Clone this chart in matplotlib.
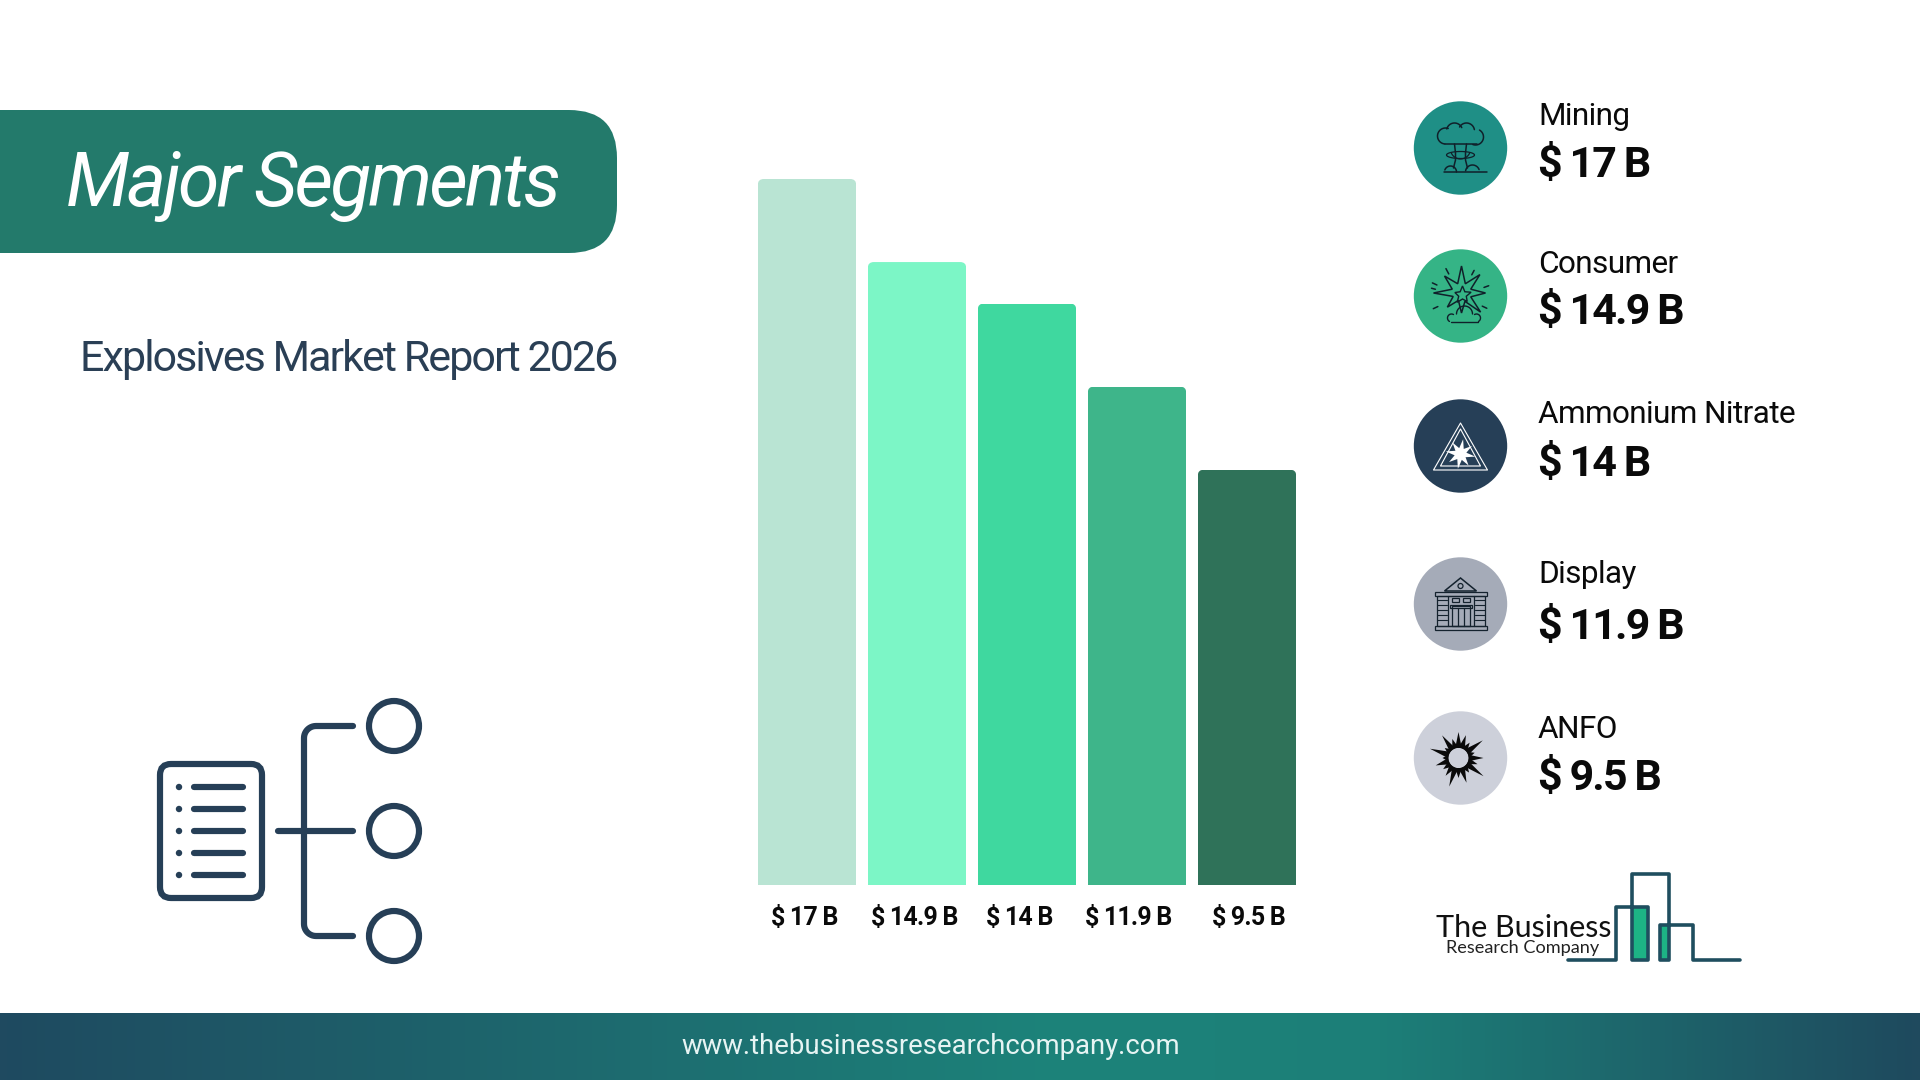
import numpy as np
import matplotlib
matplotlib.use("Agg")
import matplotlib.pyplot as plt
from matplotlib import font_manager as fm
from matplotlib.font_manager import FontProperties
from matplotlib.patches import FancyBboxPatch, Circle, Polygon, Rectangle
from matplotlib.transforms import ScaledTranslation, IdentityTransform
from matplotlib.colors import LinearSegmentedColormap

plt.rcParams['font.family'] = ['Roboto', 'DejaVu Sans']

# ---------- data ----------
categories = ["Mining", "Consumer", "Ammonium Nitrate", "Display", "ANFO"]
bar_heights = [17.0, 15.0, 14.0, 12.0, 10.0]
value_labels = ["$ 17 B", "$ 14.9 B", "$ 14 B", "$ 11.9 B", "$ 9.5 B"]
bar_colors = ["#B9E4D3", "#7CF6C6", "#3FD89F", "#3EB58A", "#2F7259"]
icon_colors = ["#1F8F86", "#35B486", "#263F57", "#A5ABB8", "#CDD0DA"]
title_text = "Major Segments"
subtitle_text = "Explosives Market Report 2026"
footer_text = "www.thebusinessresearchcompany.com"

W, H = 1920, 1080
NAVY = "#263F57"
fig = plt.figure(figsize=(W / 100, H / 100), dpi=100, facecolor="white")
px = lambda s: s * 0.72


def tracked(weight, style, track_em, size_px, tag):
    """Roboto with a tighter letter spacing, like the reference's negative tracking."""
    base = FontProperties(family="Roboto", weight=weight, style=style, size=px(size_px))
    try:
        from fontTools.ttLib import TTFont
        f = TTFont(fm.findfont(base))
        upem = f["head"].unitsPerEm
        hm = f["hmtx"].metrics
        for g, (adv, lsb) in list(hm.items()):
            if adv > 0:
                hm[g] = (adv - int(track_em * upem), lsb)
        if "HVAR" in f:
            del f["HVAR"]
        out = f"tracked_{tag}.ttf"
        f.save(out)
        return FontProperties(fname=out, size=px(size_px))
    except Exception:
        return base


fp_title = tracked("normal", "italic", 0.038, 75, "title")
fp_sub = tracked("normal", "normal", 0.046, 43, "sub")
fp_name = tracked("normal", "normal", 0.02, 31.5, "name")
fp_val = tracked("bold", "normal", 0.045, 43, "val")
fp_tick = tracked("bold", "normal", 0.032, 25, "tick")

# ---------- overlay in pixel coordinates ----------
ov = fig.add_axes([0, 0, 1, 1], zorder=1)
ov.set_xlim(0, W); ov.set_ylim(H, 0); ov.axis("off")

# footer gradient
cmap = LinearSegmentedColormap.from_list("f", [(0, "#1F4A60"), (0.55, "#1C837A"), (0.72, "#1C7F78"), (1, "#1F4A5E")])
ov.imshow(np.linspace(0, 1, 512)[None, :], extent=(0, W, 1080, 1013), cmap=cmap, aspect="auto", zorder=1)
ov.set_xlim(0, W); ov.set_ylim(H, 0)
ov.text(931, 1054, footer_text, color="#E6F4F3", fontsize=px(27.5), ha="center", va="baseline", zorder=3)

# title pill
ov.add_patch(FancyBboxPatch((-80, 110), 697, 143, boxstyle="round,pad=0,rounding_size=48",
                            fc="#237A6B", ec="none", zorder=1))
ov.text(66, 206, title_text, color="white", fontproperties=fp_title, ha="left", va="baseline", zorder=3)
ov.text(80, 371, subtitle_text, color="#2A3F55", fontproperties=fp_sub, ha="left", va="baseline", zorder=3)

# ---------- bar chart ----------
ax = fig.add_axes([752 / W, 1 - 885 / H, 550 / W, 706 / H], zorder=2)
ax.patch.set_alpha(0)
xpos = np.arange(len(categories))
bars = ax.bar(xpos, bar_heights, width=0.895, color=bar_colors, linewidth=0)
ax.set_xlim(-0.5, 4.5); ax.set_ylim(0, 17)
for s in ax.spines.values():
    s.set_visible(False)
ax.set_yticks([])
ax.set_xticks(xpos, value_labels, color="#0A0A0A")
ax.tick_params(axis="x", length=0, pad=15)
label_dx = [-3, -3, -8, -9, 2]
for lab, dx in zip(ax.get_xticklabels(), label_dx):
    lab.set_fontproperties(fp_tick)
    lab.set_transform(lab.get_transform() + ScaledTranslation(dx / 100, 0, fig.dpi_scale_trans))
fig.canvas.draw()
for b in bars:
    e = b.get_window_extent()
    clip = FancyBboxPatch((e.x0, e.y0 - 20), e.width, e.height + 20, boxstyle="round,pad=0,rounding_size=6",
                          transform=IdentityTransform(), fc="none", ec="none")
    b.set_clip_path(clip)

# ---------- right column ----------
cy_list = [148, 296, 446, 604, 758]
name_base = [125, 273, 423, 583, 738]
val_base = [177, 324, 476, 639, 790]
CX = 1460.5
for i in range(5):
    ov.add_patch(Circle((CX, cy_list[i]), 46.7, fc=icon_colors[i], ec="none", zorder=1))
    ov.text(1538, name_base[i], categories[i], color="#0A0A0A", fontproperties=fp_name, ha="left", va="baseline", zorder=3)
    ov.text(1538, val_base[i], value_labels[i], color="#0A0A0A", fontproperties=fp_val, ha="left", va="baseline", zorder=3)


def line(xs, ys, c="#10202A", lw=1.1):
    ov.plot(xs, ys, color=c, lw=lw, solid_capstyle="round", solid_joinstyle="round", zorder=3)


def arc(cx, cy, r, t1, t2, **k):
    t = np.radians(np.linspace(t1, t2, 24))
    line(cx + r * np.cos(t), cy - r * np.sin(t), **k)


def star(cx, cy, radii, rot=90.0):
    n = len(radii)
    t = np.radians(rot + np.arange(n) * 360.0 / n)
    return np.c_[cx + np.array(radii) * np.cos(t), cy - np.array(radii) * np.sin(t)]


# mushroom cloud
cx, cy = CX, 148
arc(cx - 15, cy - 12, 8, 70, 265)
arc(cx - 6, cy - 17, 8, 25, 165)
arc(cx + 6, cy - 17, 8, 10, 150)
arc(cx + 15, cy - 11, 8, -110, 60)
line([cx - 16, cx + 16], [cy - 4, cy - 4])
arc(cx, cy + 1, 10, 205, 335, lw=0.9)
line([cx - 6, cx - 5, cx - 5, cx - 7], [cy - 4, cy + 5, cy + 12, cy + 20])
line([cx + 6, cx + 5, cx + 5, cx + 7], [cy - 4, cy + 5, cy + 12, cy + 20])
t = np.radians(np.linspace(0, 360, 40))
line(cx + 14 * np.cos(t), cy + 7 + 3.5 * np.sin(t), lw=0.9)
arc(cx - 10, cy + 24, 6, 0, 160)
arc(cx + 12, cy + 24, 7, 20, 170)
line([cx - 17, cx + 26], [cy + 24, cy + 24])

# blast
cx, cy = CX, 296
p = star(cx + 1, cy - 3, [27, 10, 24, 10, 28, 9, 20, 8, 20, 9, 27, 10, 24, 10, 26, 10])
ov.add_patch(Polygon(p, closed=True, fc="none", ec="#10202A", lw=1.1, joinstyle="miter", zorder=3))
p = star(cx + 2, cy - 1, [9, 4, 8, 4, 9, 4, 8, 4, 9, 4])
ov.add_patch(Polygon(p, closed=True, fc="none", ec="#10202A", lw=1, zorder=3))
for a, r1, r2 in [(118, 25, 31), (62, 24, 29), (20, 25, 30), (-25, 24, 29), (-155, 25, 30), (-205, 26, 31), (165, 26, 30)]:
    c, s = np.cos(np.radians(a)), np.sin(np.radians(a))
    line([cx + r1 * c, cx + r2 * c], [cy - r1 * s, cy - r2 * s])
arc(cx + 4, cy + 18, 8, 0, 180, lw=1)
arc(cx - 9, cy + 22, 4, 60, 240, lw=1)
arc(cx + 16, cy + 22, 4, -60, 120, lw=1)
line([cx - 10, cx + 17], [cy + 26, cy + 26], lw=1)

# warning triangle
cx, cy = CX, 446
for a, b, w in [(-23, 24, 27), (-17, 20, 20)]:
    ov.add_patch(Polygon([[cx, cy + a], [cx + w, cy + b], [cx - w, cy + b]], closed=True, fc="none",
                         ec="white", lw=0.8, joinstyle="round", zorder=3))
p = star(cx, cy + 8, [15, 6, 14, 6, 15, 6, 14, 6, 15, 6, 14, 6, 15, 6, 14, 6], rot=80)
ov.add_patch(Polygon(p, closed=True, fc="white", ec="none", zorder=4))

# building
cx, cy = CX, 604
bk = "#14222E"
ov.add_patch(Polygon([[cx, cy - 26], [cx + 16, cy - 13], [cx - 16, cy - 13]], closed=True, fc="none", ec=bk, lw=1.1, zorder=3))
ov.add_patch(Circle((cx, cy - 18), 2.5, fc="none", ec=bk, lw=0.9, zorder=3))
for x0, y0, w, h in [(-26, -12, 52, 4), (-24, -8, 48, 30), (-26, 22, 52, 3.5), (-9, -6, 7, 3.5), (2, -6, 7, 3.5), (-9, 2, 18, 20), (-11, 1, 22, 3)]:
    ov.add_patch(Rectangle((cx + x0, cy + y0), w, h, fc="none", ec=bk, lw=0.9, zorder=3))
for x in (-13, 13):
    line([cx + x, cx + x], [cy - 8, cy + 22], c=bk, lw=0.9)
for x in (-3, 3):
    line([cx + x, cx + x], [cy + 4, cy + 22], c=bk, lw=0.9)
for y in range(-4, 21, 5):
    line([cx - 24, cx - 14], [cy + y, cy + y], c=bk, lw=0.8)
    line([cx + 14, cx + 24], [cy + y, cy + y], c=bk, lw=0.8)

# burst
cx, cy = CX - 2, 758
lens = [26, 20, 28, 17, 30, 16, 24, 19, 22, 30, 20, 26, 18, 31, 20, 25, 17, 30, 19, 24]
for i, r in enumerate(lens):
    a = np.radians(90 + i * 18)
    n = a + np.pi / 2
    b0 = np.array([cx + 10 * np.cos(a), cy - 10 * np.sin(a)])
    d = 3.3 * np.array([np.cos(n), -np.sin(n)])
    ov.add_patch(Polygon([b0 + d, b0 - d, [cx + r * np.cos(a), cy - r * np.sin(a)]], closed=True,
                         fc="#0A0A0A", ec="none", zorder=3))

# ---------- left icon ----------
ov.add_patch(FancyBboxPatch((160, 764), 102, 134, boxstyle="round,pad=0,rounding_size=11",
                            fc="none", ec=NAVY, lw=px(6.2), zorder=3))
for y in (787, 809, 831, 853, 875):
    ov.add_patch(Circle((179, y), 3.2, fc=NAVY, ec="none", zorder=3))
    line([194, 243], [y, y], c=NAVY, lw=px(6.2))
line([278, 353], [831, 831], c=NAVY, lw=px(6.2))
up = np.radians(np.linspace(90, 180, 12))
low = np.radians(np.linspace(180, 270, 12))
xs = np.r_[353, 316 + 12 * np.cos(up), 316 + 12 * np.cos(low), 353]
ys = np.r_[726, 738 - 12 * np.sin(up), 924 - 12 * np.sin(low), 936]
line(xs, ys, c=NAVY, lw=px(6.2))
for y in (726, 831, 936):
    ov.add_patch(Circle((394, y), 25, fc="none", ec=NAVY, lw=px(6.2), zorder=3))

# ---------- logo ----------
LOGO = "#1F4E5F"
GREEN = "#1DB385"
ov.add_patch(Rectangle((1632, 907), 16, 53, fc=GREEN, ec="none", zorder=2))
ov.add_patch(Rectangle((1660, 925), 9, 35, fc=GREEN, ec="none", zorder=2))
line([1568, 1616, 1616, 1648, 1648, 1632, 1632, 1669, 1669, 1660, 1660, 1693, 1693, 1740],
     [960, 960, 907, 907, 960, 960, 874, 874, 960, 960, 925, 925, 960, 960], c=LOGO, lw=px(3.6))
ov.text(1436, 937, "The Business", color="#111111", fontsize=px(30.5), family="Lato", fontweight="normal",
        ha="left", va="baseline", zorder=3)
ov.text(1446, 953, "Research Company", color="#222222", fontsize=px(18.2), family="Lato",
        ha="left", va="baseline", zorder=3)

fig.savefig("out.png", dpi=100, facecolor="white")
